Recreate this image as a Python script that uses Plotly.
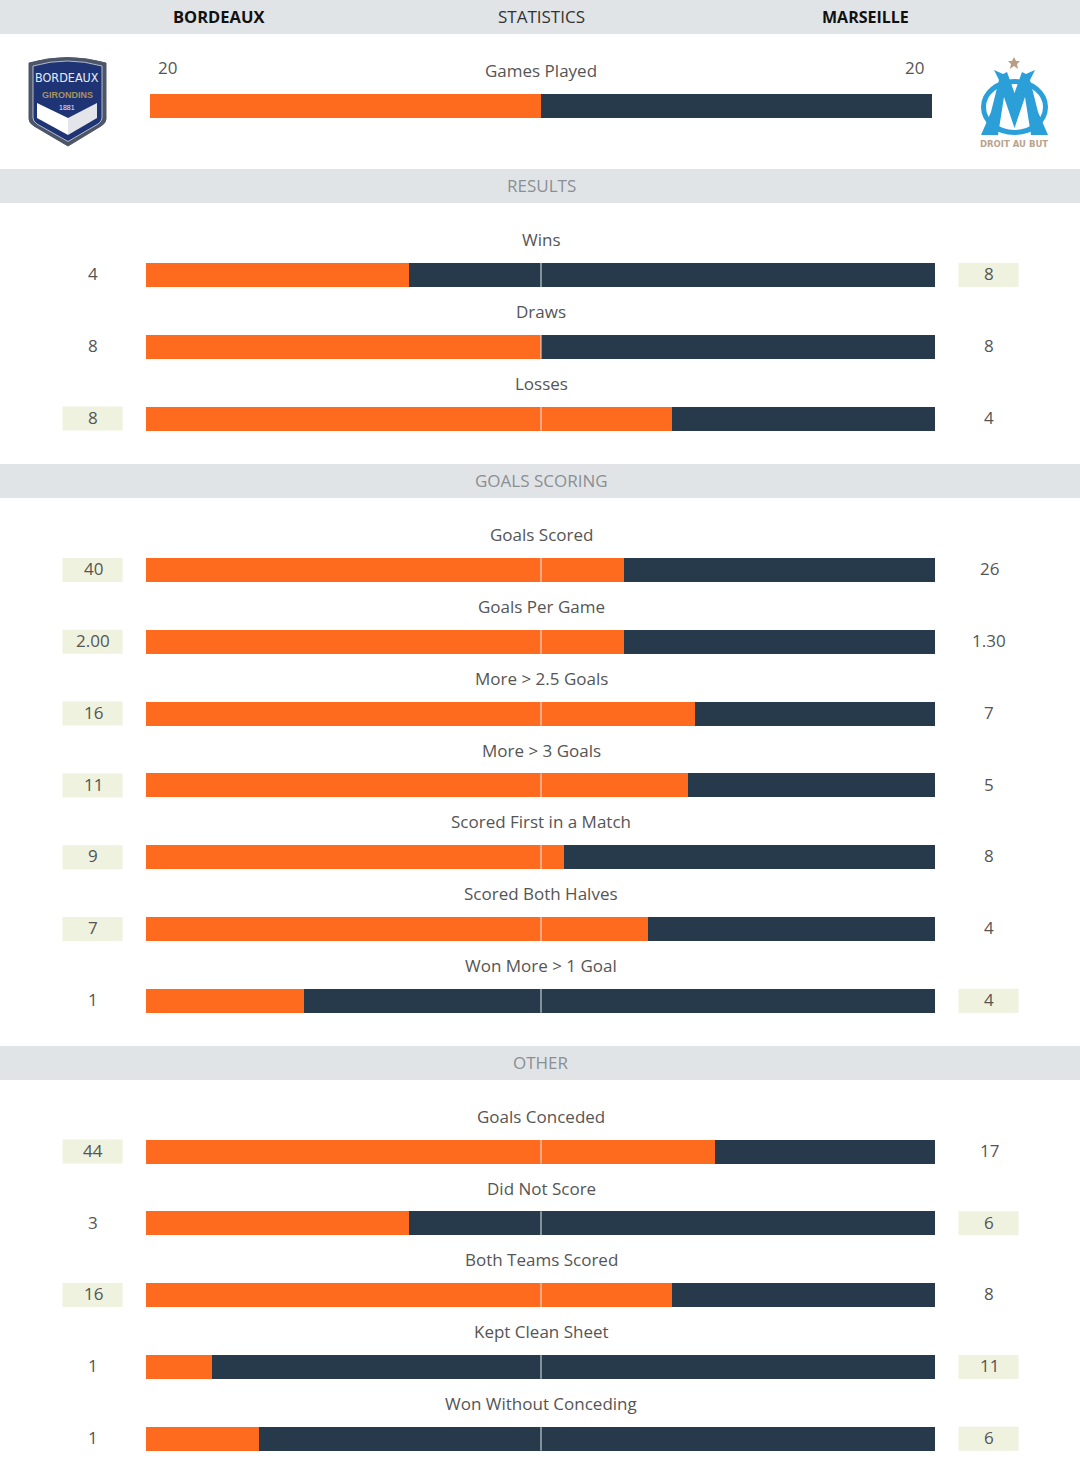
import plotly.graph_objects as go

# stats per section: label, Bordeaux value, Marseille value
results_labels = ['Wins', 'Draws', 'Losses']
results_home = ['4', '8', '8']
results_away = ['8', '8', '4']

scoring_labels = ['Goals Scored', 'Goals Per Game', 'More > 2.5 Goals', 'More > 3 Goals',
                  'Scored First in a Match', 'Scored Both Halves', 'Won More > 1 Goal']
scoring_home = ['40', '2.00', '16', '11', '9', '7', '1']
scoring_away = ['26', '1.30', '7', '5', '8', '4', '4']

other_labels = ['Goals Conceded', 'Did Not Score', 'Both Teams Scored', 'Kept Clean Sheet', 'Won Without Conceding']
other_home = ['44', '3', '16', '1', '1']
other_away = ['17', '6', '8', '11', '6']

games_home = 20
games_away = 20

ORANGE = '#fe6b1f'
NAVY = '#263a4b'
BAND = '#e1e4e7'
HILITE = '#eef2de'
GREY = '#555555'
FONT = 'Open Sans'
WIDTH = 1080
HEIGHT = 1470
PITCH = 71.8
BAR_H = 24

sections = [
    ('RESULTS', 186, 275, results_labels, results_home, results_away),
    ('GOALS SCORING', 481, 570, scoring_labels, scoring_home, scoring_away),
    ('OTHER', 1063, 1151.5, other_labels, other_home, other_away),
]

fig = go.Figure()
shapes = []
notes = []


def add_text(x, y, text, size=17, color=GREY, family=FONT):
    notes.append(dict(x=x, y=y - 0.8, xref='x3', yref='y', text=text, showarrow=False, xanchor='center', yanchor='middle',
                      font=dict(size=size, color=color, family=family)))


def add_band(y0, y1):
    shapes.append(dict(type='rect', xref='x3', yref='y', x0=0, x1=WIDTH, y0=y0, y1=y1,
                       fillcolor=BAND, line_width=0, layer='below'))


def add_path(path, fill, line=None, width=0):
    shapes.append(dict(type='path', xref='x3', yref='y', path=path, fillcolor=fill,
                       line=dict(color=line or fill, width=width), layer='above'))


# invisible trace so the pixel axis exists
fig.add_trace(go.Scatter(x=[0, WIDTH], y=[0, HEIGHT], mode='none', xaxis='x3', yaxis='y', hoverinfo='skip', showlegend=False))

# header
add_band(0, 34)
add_text(218, 17, '<b>BORDEAUX</b>', size=16.5, color='#111111')
add_text(541, 17.5, 'STATISTICS', size=17, color='#333333')
add_text(865, 17.5, '<b>MARSEILLE</b>', size=16, color='#111111')

# games played has its own slightly narrower axis
fig.add_trace(go.Bar(x=[games_home / (games_home + games_away)], y=[106], orientation='h', width=BAR_H,
                     marker=dict(color=ORANGE, line_width=0), xaxis='x2', yaxis='y', hoverinfo='skip', showlegend=False))
fig.add_trace(go.Bar(x=[games_away / (games_home + games_away)], y=[106], orientation='h', width=BAR_H,
                     marker=dict(color=NAVY, line_width=0), xaxis='x2', yaxis='y', hoverinfo='skip', showlegend=False))
add_text(541, 71.5, 'Games Played')
add_text(167, 68.5, str(games_home))
add_text(914, 68.5, str(games_away))

for title, band_y, first_y, labels, home, away in sections:
    add_band(band_y - 17, band_y + 17)
    add_text(541, band_y + 0.5, title, color='#8a8f94')
    rows = [first_y + i * PITCH for i in range(len(labels))]
    home_num = [float(v) for v in home]
    away_num = [float(v) for v in away]
    home_share = [h / (h + a) for h, a in zip(home_num, away_num)]
    away_share = [a / (h + a) for h, a in zip(home_num, away_num)]
    fig.add_trace(go.Bar(x=home_share, y=rows, orientation='h', width=BAR_H,
                         marker=dict(color=ORANGE, line_width=0), hoverinfo='skip', showlegend=False))
    fig.add_trace(go.Bar(x=away_share, y=rows, orientation='h', width=BAR_H,
                         marker=dict(color=NAVY, line_width=0), hoverinfo='skip', showlegend=False))
    for i, y in enumerate(rows):
        add_text(541, y - 34.5, labels[i])
        if home_num[i] > away_num[i]:
            shapes.append(dict(type='rect', xref='x3', yref='y', x0=62.5, x1=122.5, y0=y - 12, y1=y + 12,
                               fillcolor=HILITE, line_width=0, layer='below'))
        if away_num[i] > home_num[i]:
            shapes.append(dict(type='rect', xref='x3', yref='y', x0=958.5, x1=1018.5, y0=y - 12, y1=y + 12,
                               fillcolor=HILITE, line_width=0, layer='below'))
        add_text(93, y - 0.5, home[i])
        add_text(989, y - 0.5, away[i])
        # centre tick
        shapes.append(dict(type='line', xref='x3', yref='y', x0=541, x1=541, y0=y - 12, y1=y + 12,
                           line=dict(color='#dfe6ea', width=1), layer='above'))

# Bordeaux crest
add_path('M29,63 Q67,52 106,63 L106,119 Q106,123 101,126 L68,146 L34,126 Q29,123 29,119 Z', '#4d5568', '#4d5568', 1)
add_path('M33,66 Q67,56 102,66 L102,118 Q102,121 98,124 L68,141.5 L37,124 Q33,121 33,118 Z', '#1f3475', '#d5d9e3', 0.8)
add_path('M37,103 L68,118 L68,135 L37,118 Z', '#ffffff')
add_path('M68,118 L97,103 L97,118 L68,135 Z', '#e3e5ea')
add_text(67, 78.5, 'BORDEAUX', size=12.5, color='#e8ecf6', family='DejaVu Sans Condensed, Liberation Sans')
add_text(67, 95.5, '<b>GIRONDINS</b>', size=9, color='#a8935f', family='Liberation Sans')
add_text(67, 108, '1881', size=7, color='#e8ecf6', family='Liberation Sans')

# Marseille crest
OM = '#2a9fd8'
shapes.append(dict(type='circle', xref='x3', yref='y', x0=983.5, x1=1045.5, y0=81.5, y1=132.5,
                   fillcolor='rgba(0,0,0,0)', line=dict(color=OM, width=5), layer='above'))
add_path('M994,70 L1003,74 L1007,72 L1014.5,93 L1022,72 L1026,74 L1035,70 L1030,80 L1038,112 L1048,135 L1031,135 '
         'L1025,97 L1014.5,128 L1004,97 L998,135 L981,135 L991,112 L999,80 Z', OM)
add_path('M1014,57 L1016,61 L1020,61 L1017,64 L1018,69 L1014,66 L1010,69 L1011,64 L1008,61 L1012,61 Z', '#b79d82')
add_text(1014, 144.5, '<b>DROIT AU BUT</b>', size=8.5, color='#b8a48e', family='DejaVu Sans')

axis_off = dict(visible=False, fixedrange=True)
fig.update_layout(
    width=WIDTH,
    height=HEIGHT,
    margin=dict(l=0, r=0, t=0, b=0),
    paper_bgcolor='white',
    plot_bgcolor='rgba(0,0,0,0)',
    barmode='stack',
    bargap=0,
    showlegend=False,
    xaxis=dict(domain=[146 / WIDTH, 935 / WIDTH], range=[0, 1], anchor='y', **axis_off),
    xaxis2=dict(domain=[149.5 / WIDTH, 932 / WIDTH], range=[0, 1], anchor='y', **axis_off),
    xaxis3=dict(domain=[0, 1], range=[0, WIDTH], anchor='y', **axis_off),
    yaxis=dict(domain=[0, 1], range=[HEIGHT, 0], **axis_off),
    shapes=shapes,
    annotations=notes,
)

fig.write_html("out.html", config={'displayModeBar': False}, post_script="document.body.style.margin='0';")
